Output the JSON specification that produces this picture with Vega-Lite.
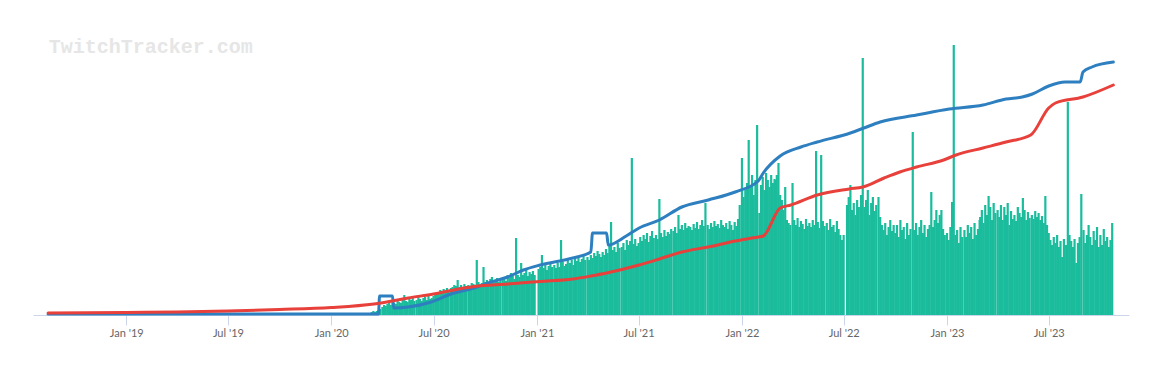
{
  "$schema": "https://vega.github.io/schema/vega-lite/v6.json",
  "width": 1096,
  "height": 300,
  "autosize": {"type": "none"},
  "padding": {"left": 33, "top": 15, "right": 38, "bottom": 58},
  "background": "#ffffff",
  "config": {
    "view": {"stroke": null},
    "axis": {"grid": false, "title": null}
  },
  "datasets": {
    "viewers": [
      {"date":"2020-03-10","viewers":20},{"date":"2020-03-13","viewers":30},{"date":"2020-03-16","viewers":40},{"date":"2020-03-19","viewers":30},{"date":"2020-03-22","viewers":40},{"date":"2020-03-25","viewers":50},{"date":"2020-03-28","viewers":60},
      {"date":"2020-04-01","viewers":80},{"date":"2020-04-04","viewers":100},{"date":"2020-04-07","viewers":90},{"date":"2020-04-10","viewers":110},{"date":"2020-04-13","viewers":120},{"date":"2020-04-16","viewers":100},{"date":"2020-04-19","viewers":130},{"date":"2020-04-22","viewers":120},{"date":"2020-04-25","viewers":110},{"date":"2020-04-28","viewers":140},
      {"date":"2020-05-01","viewers":130},{"date":"2020-05-04","viewers":120},{"date":"2020-05-07","viewers":150},{"date":"2020-05-10","viewers":200},{"date":"2020-05-13","viewers":140},{"date":"2020-05-16","viewers":130},{"date":"2020-05-19","viewers":160},{"date":"2020-05-22","viewers":150},{"date":"2020-05-25","viewers":180},{"date":"2020-05-28","viewers":140},
      {"date":"2020-06-01","viewers":150},{"date":"2020-06-04","viewers":200},{"date":"2020-06-07","viewers":160},{"date":"2020-06-10","viewers":140},{"date":"2020-06-13","viewers":170},{"date":"2020-06-16","viewers":180},{"date":"2020-06-19","viewers":150},{"date":"2020-06-22","viewers":190},{"date":"2020-06-25","viewers":160},{"date":"2020-06-28","viewers":170},
      {"date":"2020-07-01","viewers":190},{"date":"2020-07-04","viewers":210},{"date":"2020-07-07","viewers":230},{"date":"2020-07-10","viewers":220},{"date":"2020-07-13","viewers":250},{"date":"2020-07-16","viewers":240},{"date":"2020-07-19","viewers":260},{"date":"2020-07-22","viewers":230},{"date":"2020-07-25","viewers":270},{"date":"2020-07-28","viewers":250},
      {"date":"2020-08-01","viewers":270},{"date":"2020-08-04","viewers":280},{"date":"2020-08-07","viewers":300},{"date":"2020-08-10","viewers":290},{"date":"2020-08-13","viewers":350},{"date":"2020-08-16","viewers":280},{"date":"2020-08-19","viewers":300},{"date":"2020-08-22","viewers":270},{"date":"2020-08-25","viewers":310},{"date":"2020-08-28","viewers":290},
      {"date":"2020-09-01","viewers":300},{"date":"2020-09-04","viewers":280},{"date":"2020-09-07","viewers":320},{"date":"2020-09-10","viewers":310},{"date":"2020-09-13","viewers":290},{"date":"2020-09-16","viewers":550},{"date":"2020-09-19","viewers":330},{"date":"2020-09-22","viewers":300},{"date":"2020-09-25","viewers":320},{"date":"2020-09-28","viewers":480},
      {"date":"2020-10-01","viewers":330},{"date":"2020-10-04","viewers":350},{"date":"2020-10-07","viewers":300},{"date":"2020-10-10","viewers":360},{"date":"2020-10-13","viewers":380},{"date":"2020-10-16","viewers":320},{"date":"2020-10-19","viewers":340},{"date":"2020-10-22","viewers":370},{"date":"2020-10-25","viewers":330},{"date":"2020-10-28","viewers":360},
      {"date":"2020-11-01","viewers":360},{"date":"2020-11-04","viewers":380},{"date":"2020-11-07","viewers":340},{"date":"2020-11-10","viewers":400},{"date":"2020-11-13","viewers":370},{"date":"2020-11-16","viewers":420},{"date":"2020-11-19","viewers":390},{"date":"2020-11-22","viewers":360},{"date":"2020-11-25","viewers":770},{"date":"2020-11-28","viewers":400},
      {"date":"2020-12-01","viewers":380},{"date":"2020-12-04","viewers":520},{"date":"2020-12-07","viewers":400},{"date":"2020-12-10","viewers":420},{"date":"2020-12-13","viewers":450},{"date":"2020-12-16","viewers":390},{"date":"2020-12-19","viewers":430},{"date":"2020-12-22","viewers":410},{"date":"2020-12-25","viewers":440},{"date":"2020-12-28","viewers":400},
      {"date":"2021-01-01","viewers":0},{"date":"2021-01-04","viewers":460},{"date":"2021-01-07","viewers":480},{"date":"2021-01-10","viewers":600},{"date":"2021-01-13","viewers":470},{"date":"2021-01-16","viewers":500},{"date":"2021-01-19","viewers":450},{"date":"2021-01-22","viewers":490},{"date":"2021-01-25","viewers":520},{"date":"2021-01-28","viewers":480},
      {"date":"2021-02-01","viewers":500},{"date":"2021-02-04","viewers":470},{"date":"2021-02-07","viewers":520},{"date":"2021-02-10","viewers":480},{"date":"2021-02-13","viewers":750},{"date":"2021-02-16","viewers":530},{"date":"2021-02-19","viewers":490},{"date":"2021-02-22","viewers":510},{"date":"2021-02-25","viewers":550},{"date":"2021-02-28","viewers":520},
      {"date":"2021-03-01","viewers":520},{"date":"2021-03-04","viewers":550},{"date":"2021-03-07","viewers":500},{"date":"2021-03-10","viewers":570},{"date":"2021-03-13","viewers":540},{"date":"2021-03-16","viewers":580},{"date":"2021-03-19","viewers":530},{"date":"2021-03-22","viewers":560},{"date":"2021-03-25","viewers":600},{"date":"2021-03-28","viewers":550},
      {"date":"2021-04-01","viewers":580},{"date":"2021-04-04","viewers":550},{"date":"2021-04-07","viewers":600},{"date":"2021-04-10","viewers":570},{"date":"2021-04-13","viewers":620},{"date":"2021-04-16","viewers":590},{"date":"2021-04-19","viewers":640},{"date":"2021-04-22","viewers":610},{"date":"2021-04-25","viewers":580},{"date":"2021-04-28","viewers":630},
      {"date":"2021-05-01","viewers":600},{"date":"2021-05-04","viewers":660},{"date":"2021-05-07","viewers":620},{"date":"2021-05-10","viewers":700},{"date":"2021-05-13","viewers":930},{"date":"2021-05-16","viewers":650},{"date":"2021-05-19","viewers":680},{"date":"2021-05-22","viewers":630},{"date":"2021-05-25","viewers":720},{"date":"2021-05-28","viewers":670},
      {"date":"2021-06-01","viewers":680},{"date":"2021-06-04","viewers":720},{"date":"2021-06-07","viewers":650},{"date":"2021-06-10","viewers":750},{"date":"2021-06-13","viewers":700},{"date":"2021-06-16","viewers":740},{"date":"2021-06-19","viewers":1570},{"date":"2021-06-22","viewers":710},{"date":"2021-06-25","viewers":760},{"date":"2021-06-28","viewers":690},
      {"date":"2021-07-01","viewers":720},{"date":"2021-07-04","viewers":780},{"date":"2021-07-07","viewers":740},{"date":"2021-07-10","viewers":800},{"date":"2021-07-13","viewers":760},{"date":"2021-07-16","viewers":820},{"date":"2021-07-19","viewers":730},{"date":"2021-07-22","viewers":790},{"date":"2021-07-25","viewers":840},{"date":"2021-07-28","viewers":770},
      {"date":"2021-08-01","viewers":800},{"date":"2021-08-04","viewers":760},{"date":"2021-08-07","viewers":1160},{"date":"2021-08-10","viewers":820},{"date":"2021-08-13","viewers":780},{"date":"2021-08-16","viewers":850},{"date":"2021-08-19","viewers":790},{"date":"2021-08-22","viewers":830},{"date":"2021-08-25","viewers":810},{"date":"2021-08-28","viewers":860},
      {"date":"2021-09-01","viewers":840},{"date":"2021-09-04","viewers":880},{"date":"2021-09-07","viewers":820},{"date":"2021-09-10","viewers":1000},{"date":"2021-09-13","viewers":860},{"date":"2021-09-16","viewers":900},{"date":"2021-09-19","viewers":850},{"date":"2021-09-22","viewers":920},{"date":"2021-09-25","viewers":870},{"date":"2021-09-28","viewers":890},
      {"date":"2021-10-01","viewers":880},{"date":"2021-10-04","viewers":850},{"date":"2021-10-07","viewers":910},{"date":"2021-10-10","viewers":870},{"date":"2021-10-13","viewers":930},{"date":"2021-10-16","viewers":860},{"date":"2021-10-19","viewers":900},{"date":"2021-10-22","viewers":950},{"date":"2021-10-25","viewers":890},{"date":"2021-10-28","viewers":1120},
      {"date":"2021-11-01","viewers":900},{"date":"2021-11-04","viewers":860},{"date":"2021-11-07","viewers":920},{"date":"2021-11-10","viewers":880},{"date":"2021-11-13","viewers":940},{"date":"2021-11-16","viewers":890},{"date":"2021-11-19","viewers":910},{"date":"2021-11-22","viewers":870},{"date":"2021-11-25","viewers":950},{"date":"2021-11-28","viewers":900},
      {"date":"2021-12-01","viewers":880},{"date":"2021-12-04","viewers":920},{"date":"2021-12-07","viewers":860},{"date":"2021-12-10","viewers":940},{"date":"2021-12-13","viewers":900},{"date":"2021-12-16","viewers":850},{"date":"2021-12-19","viewers":930},{"date":"2021-12-22","viewers":890},{"date":"2021-12-25","viewers":960},{"date":"2021-12-28","viewers":1100},
      {"date":"2022-01-01","viewers":1570},{"date":"2022-01-04","viewers":1180},{"date":"2022-01-07","viewers":1250},{"date":"2022-01-10","viewers":1320},{"date":"2022-01-13","viewers":1750},{"date":"2022-01-16","viewers":1280},{"date":"2022-01-19","viewers":1400},{"date":"2022-01-22","viewers":1200},{"date":"2022-01-25","viewers":1350},{"date":"2022-01-28","viewers":1900},
      {"date":"2022-02-01","viewers":1020},{"date":"2022-02-04","viewers":1300},{"date":"2022-02-07","viewers":1380},{"date":"2022-02-10","viewers":1250},{"date":"2022-02-13","viewers":1420},{"date":"2022-02-16","viewers":1350},{"date":"2022-02-19","viewers":1280},{"date":"2022-02-22","viewers":1400},{"date":"2022-02-25","viewers":1320},{"date":"2022-02-28","viewers":1360},
      {"date":"2022-03-01","viewers":1350},{"date":"2022-03-04","viewers":1400},{"date":"2022-03-07","viewers":1520},{"date":"2022-03-10","viewers":1200},{"date":"2022-03-13","viewers":1150},{"date":"2022-03-16","viewers":1050},{"date":"2022-03-19","viewers":1280},{"date":"2022-03-22","viewers":950},{"date":"2022-03-25","viewers":920},{"date":"2022-03-28","viewers":900},
      {"date":"2022-04-01","viewers":1320},{"date":"2022-04-04","viewers":950},{"date":"2022-04-07","viewers":900},{"date":"2022-04-10","viewers":970},{"date":"2022-04-13","viewers":880},{"date":"2022-04-16","viewers":940},{"date":"2022-04-19","viewers":910},{"date":"2022-04-22","viewers":860},{"date":"2022-04-25","viewers":960},{"date":"2022-04-28","viewers":890},
      {"date":"2022-05-01","viewers":920},{"date":"2022-05-04","viewers":880},{"date":"2022-05-07","viewers":950},{"date":"2022-05-10","viewers":900},{"date":"2022-05-13","viewers":1640},{"date":"2022-05-16","viewers":930},{"date":"2022-05-19","viewers":870},{"date":"2022-05-22","viewers":1600},{"date":"2022-05-25","viewers":940},{"date":"2022-05-28","viewers":890},
      {"date":"2022-06-01","viewers":920},{"date":"2022-06-04","viewers":850},{"date":"2022-06-07","viewers":960},{"date":"2022-06-10","viewers":880},{"date":"2022-06-13","viewers":900},{"date":"2022-06-16","viewers":830},{"date":"2022-06-19","viewers":940},{"date":"2022-06-22","viewers":860},{"date":"2022-06-25","viewers":800},{"date":"2022-06-28","viewers":750},
      {"date":"2022-07-01","viewers":800},{"date":"2022-07-04","viewers":0},{"date":"2022-07-07","viewers":1100},{"date":"2022-07-10","viewers":1180},{"date":"2022-07-13","viewers":1300},{"date":"2022-07-16","viewers":1050},{"date":"2022-07-19","viewers":1120},{"date":"2022-07-22","viewers":1000},{"date":"2022-07-25","viewers":1150},{"date":"2022-07-28","viewers":1080},
      {"date":"2022-08-01","viewers":1200},{"date":"2022-08-04","viewers":2570},{"date":"2022-08-07","viewers":1080},{"date":"2022-08-10","viewers":1150},{"date":"2022-08-13","viewers":1250},{"date":"2022-08-16","viewers":1000},{"date":"2022-08-19","viewers":1120},{"date":"2022-08-22","viewers":1180},{"date":"2022-08-25","viewers":1040},{"date":"2022-08-28","viewers":1100},
      {"date":"2022-09-01","viewers":1180},{"date":"2022-09-04","viewers":980},{"date":"2022-09-07","viewers":900},{"date":"2022-09-10","viewers":850},{"date":"2022-09-13","viewers":920},{"date":"2022-09-16","viewers":800},{"date":"2022-09-19","viewers":880},{"date":"2022-09-22","viewers":950},{"date":"2022-09-25","viewers":840},{"date":"2022-09-28","viewers":900},
      {"date":"2022-10-01","viewers":820},{"date":"2022-10-04","viewers":900},{"date":"2022-10-07","viewers":780},{"date":"2022-10-10","viewers":950},{"date":"2022-10-13","viewers":850},{"date":"2022-10-16","viewers":880},{"date":"2022-10-19","viewers":760},{"date":"2022-10-22","viewers":920},{"date":"2022-10-25","viewers":800},{"date":"2022-10-28","viewers":860},
      {"date":"2022-11-01","viewers":1830},{"date":"2022-11-04","viewers":850},{"date":"2022-11-07","viewers":920},{"date":"2022-11-10","viewers":800},{"date":"2022-11-13","viewers":880},{"date":"2022-11-16","viewers":950},{"date":"2022-11-19","viewers":820},{"date":"2022-11-22","viewers":900},{"date":"2022-11-25","viewers":780},{"date":"2022-11-28","viewers":860},
      {"date":"2022-12-01","viewers":900},{"date":"2022-12-04","viewers":1230},{"date":"2022-12-07","viewers":880},{"date":"2022-12-10","viewers":950},{"date":"2022-12-13","viewers":1050},{"date":"2022-12-16","viewers":920},{"date":"2022-12-19","viewers":1000},{"date":"2022-12-22","viewers":1050},{"date":"2022-12-25","viewers":860},{"date":"2022-12-28","viewers":800},
      {"date":"2023-01-01","viewers":820},{"date":"2023-01-04","viewers":750},{"date":"2023-01-07","viewers":880},{"date":"2023-01-10","viewers":1130},{"date":"2023-01-13","viewers":2700},{"date":"2023-01-16","viewers":800},{"date":"2023-01-19","viewers":850},{"date":"2023-01-22","viewers":720},{"date":"2023-01-25","viewers":880},{"date":"2023-01-28","viewers":780},
      {"date":"2023-02-01","viewers":850},{"date":"2023-02-04","viewers":780},{"date":"2023-02-07","viewers":900},{"date":"2023-02-10","viewers":820},{"date":"2023-02-13","viewers":880},{"date":"2023-02-16","viewers":760},{"date":"2023-02-19","viewers":920},{"date":"2023-02-22","viewers":800},{"date":"2023-02-25","viewers":860},{"date":"2023-02-28","viewers":950},
      {"date":"2023-03-01","viewers":980},{"date":"2023-03-04","viewers":1050},{"date":"2023-03-07","viewers":920},{"date":"2023-03-10","viewers":1100},{"date":"2023-03-13","viewers":1000},{"date":"2023-03-16","viewers":1190},{"date":"2023-03-19","viewers":1080},{"date":"2023-03-22","viewers":950},{"date":"2023-03-25","viewers":1120},{"date":"2023-03-28","viewers":1020},
      {"date":"2023-04-01","viewers":1050},{"date":"2023-04-04","viewers":980},{"date":"2023-04-07","viewers":1100},{"date":"2023-04-10","viewers":950},{"date":"2023-04-13","viewers":1080},{"date":"2023-04-16","viewers":1000},{"date":"2023-04-19","viewers":1120},{"date":"2023-04-22","viewers":900},{"date":"2023-04-25","viewers":1040},{"date":"2023-04-28","viewers":960},
      {"date":"2023-05-01","viewers":1000},{"date":"2023-05-04","viewers":940},{"date":"2023-05-07","viewers":1080},{"date":"2023-05-10","viewers":1020},{"date":"2023-05-13","viewers":980},{"date":"2023-05-16","viewers":1170},{"date":"2023-05-19","viewers":1050},{"date":"2023-05-22","viewers":950},{"date":"2023-05-25","viewers":1030},{"date":"2023-05-28","viewers":970},
      {"date":"2023-06-01","viewers":1000},{"date":"2023-06-04","viewers":960},{"date":"2023-06-07","viewers":1040},{"date":"2023-06-10","viewers":980},{"date":"2023-06-13","viewers":1020},{"date":"2023-06-16","viewers":950},{"date":"2023-06-19","viewers":990},{"date":"2023-06-22","viewers":920},{"date":"2023-06-25","viewers":1190},{"date":"2023-06-28","viewers":900},
      {"date":"2023-07-01","viewers":820},{"date":"2023-07-04","viewers":750},{"date":"2023-07-07","viewers":700},{"date":"2023-07-10","viewers":780},{"date":"2023-07-13","viewers":720},{"date":"2023-07-16","viewers":800},{"date":"2023-07-19","viewers":680},{"date":"2023-07-22","viewers":740},{"date":"2023-07-25","viewers":580},{"date":"2023-07-28","viewers":760},
      {"date":"2023-08-01","viewers":700},{"date":"2023-08-04","viewers":2130},{"date":"2023-08-07","viewers":800},{"date":"2023-08-10","viewers":740},{"date":"2023-08-13","viewers":680},{"date":"2023-08-16","viewers":760},{"date":"2023-08-19","viewers":520},{"date":"2023-08-22","viewers":720},{"date":"2023-08-25","viewers":780},{"date":"2023-08-28","viewers":1210},
      {"date":"2023-09-01","viewers":850},{"date":"2023-09-04","viewers":720},{"date":"2023-09-07","viewers":800},{"date":"2023-09-10","viewers":900},{"date":"2023-09-13","viewers":780},{"date":"2023-09-16","viewers":700},{"date":"2023-09-19","viewers":840},{"date":"2023-09-22","viewers":750},{"date":"2023-09-25","viewers":880},{"date":"2023-09-28","viewers":680},
      {"date":"2023-10-01","viewers":800},{"date":"2023-10-04","viewers":700},{"date":"2023-10-07","viewers":860},{"date":"2023-10-10","viewers":740},{"date":"2023-10-13","viewers":780},{"date":"2023-10-16","viewers":680},{"date":"2023-10-19","viewers":750},{"date":"2023-10-22","viewers":920}
    ],
    "followers": [
      {"date":"2018-08-15","followers":10},{"date":"2020-03-25","followers":10},{"date":"2020-03-27","followers":190},{"date":"2020-04-19","followers":190},{"date":"2020-04-21","followers":70},{"date":"2020-05-17","followers":80},{"date":"2020-06-27","followers":130},{"date":"2020-08-01","followers":210},{"date":"2020-09-11","followers":270},{"date":"2020-10-11","followers":330},{"date":"2020-11-10","followers":380},{"date":"2020-12-08","followers":450},{"date":"2021-01-07","followers":500},{"date":"2021-03-06","followers":570},{"date":"2021-04-07","followers":630},{"date":"2021-04-10","followers":820},{"date":"2021-05-05","followers":820},{"date":"2021-05-08","followers":700},{"date":"2021-06-09","followers":790},{"date":"2021-07-02","followers":870},{"date":"2021-08-07","followers":950},{"date":"2021-09-16","followers":1080},{"date":"2021-11-02","followers":1150},{"date":"2021-12-20","followers":1230},{"date":"2022-01-30","followers":1340},{"date":"2022-02-08","followers":1420},{"date":"2022-03-10","followers":1590},{"date":"2022-04-16","followers":1680},{"date":"2022-05-15","followers":1730},{"date":"2022-07-13","followers":1820},{"date":"2022-08-06","followers":1870},{"date":"2022-09-04","followers":1930},{"date":"2022-11-08","followers":2000},{"date":"2023-01-05","followers":2060},{"date":"2023-03-06","followers":2100},{"date":"2023-04-16","followers":2160},{"date":"2023-05-15","followers":2180},{"date":"2023-06-02","followers":2210},{"date":"2023-07-01","followers":2290},{"date":"2023-07-30","followers":2330},{"date":"2023-08-26","followers":2330},{"date":"2023-08-31","followers":2430},{"date":"2023-09-16","followers":2480},{"date":"2023-10-24","followers":2530}
    ],
    "hours": [
      {"date":"2018-08-15","hours":20},{"date":"2019-01-01","hours":25},{"date":"2019-04-01","hours":30},{"date":"2019-07-01","hours":40},{"date":"2019-10-01","hours":55},{"date":"2020-01-01","hours":75},{"date":"2020-03-17","hours":110},{"date":"2020-05-17","hours":170},{"date":"2020-07-01","hours":210},{"date":"2020-09-11","hours":285},{"date":"2020-11-10","hours":310},{"date":"2021-01-07","hours":335},{"date":"2021-03-06","hours":360},{"date":"2021-04-07","hours":390},{"date":"2021-05-05","hours":420},{"date":"2021-07-02","hours":500},{"date":"2021-08-07","hours":560},{"date":"2021-09-16","hours":630},{"date":"2021-11-02","hours":680},{"date":"2021-12-20","hours":740},{"date":"2022-01-30","hours":780},{"date":"2022-02-08","hours":790},{"date":"2022-03-10","hours":1070},{"date":"2022-03-29","hours":1100},{"date":"2022-05-15","hours":1200},{"date":"2022-07-11","hours":1260},{"date":"2022-08-04","hours":1280},{"date":"2022-09-11","hours":1370},{"date":"2022-10-09","hours":1430},{"date":"2022-11-08","hours":1480},{"date":"2022-12-26","hours":1550},{"date":"2023-01-17","hours":1600},{"date":"2023-03-06","hours":1670},{"date":"2023-04-16","hours":1730},{"date":"2023-05-30","hours":1800},{"date":"2023-07-01","hours":2070},{"date":"2023-07-13","hours":2120},{"date":"2023-08-31","hours":2180},{"date":"2023-10-24","hours":2300}
    ],
    "watermark": [{"label": "TwitchTracker.com"}]
  },
  "layer": [
    {
      "data": {"name": "viewers"},
      "mark": {"type": "bar", "color": "#1abc9c", "width": 2.2},
      "encoding": {
        "x": {
          "field": "date", "type": "temporal",
          "scale": {"type": "utc", "domain": [{"year": 2018, "month": 7, "date": 28, "utc": true}, {"year": 2023, "month": 11, "date": 12, "utc": true}]},
          "axis": {
            "tickCount": {"interval": "month", "step": 6},
            "labelExpr": "utcFormat(datum.value, \"%b '%y\")",
            "domainColor": "#ccd6eb", "tickColor": "#ccd6eb", "tickSize": 10,
            "labelFont": "Lato", "labelFontSize": 11, "labelColor": "#666666",
            "labelPadding": 2, "labelFlush": false, "labelOverlap": false
          }
        },
        "y": {"field": "viewers", "type": "quantitative", "scale": {"domain": [0, 3000]}, "axis": null}
      }
    },
    {
      "data": {"name": "followers"},
      "mark": {"type": "line", "color": "#2e7fbf", "strokeWidth": 3, "interpolate": "monotone", "strokeCap": "round", "strokeJoin": "round"},
      "encoding": {
        "x": {"field": "date", "type": "temporal"},
        "y": {"field": "followers", "type": "quantitative", "axis": null}
      }
    },
    {
      "data": {"name": "hours"},
      "mark": {"type": "line", "color": "#e8403b", "strokeWidth": 3, "interpolate": "monotone", "strokeCap": "round", "strokeJoin": "round"},
      "encoding": {
        "x": {"field": "date", "type": "temporal"},
        "y": {"field": "hours", "type": "quantitative", "axis": null}
      }
    },
    {
      "data": {"name": "watermark"},
      "mark": {"type": "text", "font": "Liberation Mono", "fontWeight": "bold", "fontSize": 20, "color": "#e6e6e6", "align": "left", "baseline": "middle"},
      "encoding": {
        "x": {"datum": {"year": 2018, "month": 8, "date": 16, "utc": true}, "type": "temporal"},
        "y": {"datum": 2680, "type": "quantitative"},
        "text": {"field": "label"}
      }
    }
  ]
}
